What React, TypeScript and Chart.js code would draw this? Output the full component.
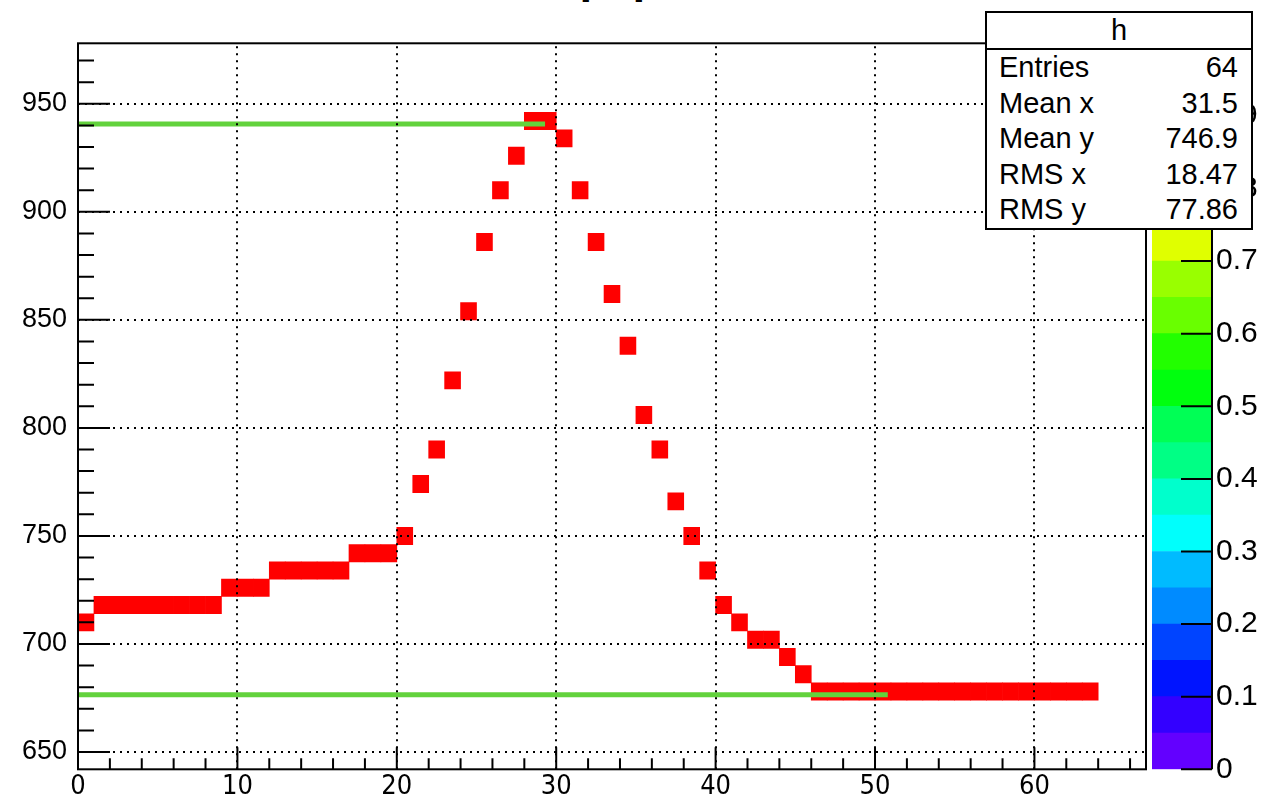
import React, { useEffect, useRef } from "react";
import { Chart, registerables } from "chart.js";

Chart.register(...registerables);

// ---------------- data ----------------
const binLowEdges = [
  0, 1, 2, 3, 4, 5, 6, 7, 8, 9, 10, 11, 12, 13, 14, 15,
  16, 17, 18, 19, 20, 21, 22, 23, 24, 25, 26, 27, 28, 29, 30, 31,
  32, 33, 34, 35, 36, 37, 38, 39, 40, 41, 42, 43, 44, 45, 46, 47,
  48, 49, 50, 51, 52, 53, 54, 55, 56, 57, 58, 59, 60, 61, 62, 63,
];
const binYCenters = [
  710, 718, 718, 718, 718, 718, 718, 718, 718, 726, 726, 726, 734, 734, 734, 734,
  734, 742, 742, 742, 750, 774, 790, 822, 854, 886, 910, 926, 942, 942, 934, 910,
  886, 862, 838, 806, 790, 766, 750, 734, 718, 710, 702, 702, 694, 686, 678, 678,
  678, 678, 678, 678, 678, 678, 678, 678, 678, 678, 678, 678, 678, 678, 678, 678,
];
const binWidthX = 1;
const binHeightY = 8;

const upperLineX = [0, 29.3];
const upperLineY = 940.6;
const lowerLineX = [0, 50.8];
const lowerLineY = 676.5;

const X_RANGE = [0, 67];
const Y_RANGE = [642, 978];
const Z_RANGE = [0, 1];

const xTickValues = [0, 10, 20, 30, 40, 50, 60];
const xTickLabels = ["0", "10", "20", "30", "40", "50", "60"];
const yTickValues = [650, 700, 750, 800, 850, 900, 950];
const yTickLabels = ["650", "700", "750", "800", "850", "900", "950"];
const zTickValues = [0, 0.1, 0.2, 0.3, 0.4, 0.5, 0.6, 0.7, 0.8, 0.9, 1];
const zTickLabels = ["0", "0.1", "0.2", "0.3", "0.4", "0.5", "0.6", "0.7", "0.8", "0.9", "1"];
const xMinorStep = 2;
const yMinorStep = 10;

const zLevels = [
  0, 0.05, 0.1, 0.15, 0.2, 0.25, 0.3, 0.35, 0.4, 0.45, 0.5,
  0.55, 0.6, 0.65, 0.7, 0.75, 0.8, 0.85, 0.9, 0.95, 1,
];
const paletteColors = [
  "rgb(99,0,255)", "rgb(51,0,255)", "rgb(0,20,255)", "rgb(0,68,255)",
  "rgb(0,139,255)", "rgb(0,187,255)", "rgb(0,255,252)", "rgb(0,255,204)",
  "rgb(0,255,133)", "rgb(0,255,85)", "rgb(0,255,14)", "rgb(34,255,0)",
  "rgb(105,255,0)", "rgb(153,255,0)", "rgb(224,255,0)", "rgb(255,238,0)",
  "rgb(255,167,0)", "rgb(255,119,0)", "rgb(255,48,0)", "rgb(255,0,0)",
];

const statsTitle = "h";
const statsLabels = ["Entries", "Mean x", "Mean y", "RMS x", "RMS y"];
const statsValues = ["64", "31.5", "746.9", "18.47", "77.86"];

const titleText = "Threshold [mV] vs channel ID, run 1";

// ---------------- styles ----------------
const BIN_COLOR = "#ff0000";
const GREEN = "#62d23c";
const SANS = "'Liberation Sans', Arial, Helvetica, sans-serif";
const NARROW = "'Liberation Sans Narrow', 'Arial Narrow', 'DejaVu Sans Condensed', 'Liberation Sans', sans-serif";
const GRID_DASH = [2, 5];

const rootFramePlugin = {
  id: "rootFrame",
  afterDatasetsDraw(chart: any) {
    const { ctx, chartArea: a } = chart;
    const xs = chart.scales.x;
    const ys = chart.scales.y;
    ctx.save();
    ctx.strokeStyle = "#000";
    ctx.lineWidth = 2;
    // dotted grid
    ctx.setLineDash(GRID_DASH);
    ctx.beginPath();
    xs.ticks.forEach((t: any) => {
      const px = Math.round(xs.getPixelForValue(t.value));
      ctx.moveTo(px, a.bottom);
      ctx.lineTo(px, a.top);
    });
    ys.ticks.forEach((t: any) => {
      const py = Math.round(ys.getPixelForValue(t.value));
      ctx.moveTo(a.left, py);
      ctx.lineTo(a.right, py);
    });
    ctx.stroke();
    ctx.setLineDash([]);
    // ticks inside frame
    ctx.beginPath();
    const nx = Math.floor((X_RANGE[1] - X_RANGE[0]) / xMinorStep);
    for (let k = 0; k <= nx; k++) {
      const v = X_RANGE[0] + k * xMinorStep;
      const px = xs.getPixelForValue(v);
      const len = xTickValues.includes(v) ? 22 : 11;
      ctx.moveTo(px, a.bottom);
      ctx.lineTo(px, a.bottom - len);
    }
    const y0 = Math.ceil(Y_RANGE[0] / yMinorStep);
    const y1 = Math.floor(Y_RANGE[1] / yMinorStep);
    for (let k = y0; k <= y1; k++) {
      const v = k * yMinorStep;
      const py = ys.getPixelForValue(v);
      const len = yTickValues.includes(v) ? 32 : 16;
      ctx.moveTo(a.left, py);
      ctx.lineTo(a.left + len, py);
    }
    ctx.stroke();
    ctx.strokeRect(a.left, a.top, a.right - a.left, a.bottom - a.top);
    ctx.restore();
  },
};

const paletteAxisPlugin = {
  id: "paletteAxis",
  afterDraw(chart: any) {
    const { ctx, chartArea: a } = chart;
    const zs = chart.scales.y;
    ctx.save();
    ctx.strokeStyle = "#000";
    ctx.lineWidth = 2;
    ctx.beginPath();
    zs.ticks.forEach((t: any) => {
      const py = zs.getPixelForValue(t.value);
      ctx.moveTo(a.right - 31, py);
      ctx.lineTo(a.right, py);
    });
    ctx.moveTo(a.right, a.bottom);
    ctx.lineTo(a.right, a.top);
    ctx.stroke();
    ctx.restore();
  },
};

export default function App() {
  const mainRef = useRef<HTMLCanvasElement>(null);
  const zRef = useRef<HTMLCanvasElement>(null);

  useEffect(() => {
    document.body.style.margin = "0";
    const main = new Chart(mainRef.current as HTMLCanvasElement, {
      type: "bar",
      data: {
        datasets: [
          {
            type: "line",
            data: upperLineX.map((x) => ({ x, y: upperLineY })),
            borderColor: GREEN,
            borderWidth: 5,
            pointRadius: 0,
            fill: false,
            order: 1,
          } as any,
          {
            type: "line",
            data: lowerLineX.map((x) => ({ x, y: lowerLineY })),
            borderColor: GREEN,
            borderWidth: 5,
            pointRadius: 0,
            fill: false,
            order: 1,
          } as any,
          {
            type: "bar",
            data: binLowEdges.map((x, i) => ({
              x: x + binWidthX / 2,
              y: [binYCenters[i] - binHeightY / 2, binYCenters[i] + binHeightY / 2],
            })),
            backgroundColor: BIN_COLOR,
            borderWidth: 0,
            barPercentage: 1,
            categoryPercentage: 1,
            order: 2,
          } as any,
        ],
      },
      options: {
        animation: false,
        responsive: false,
        events: [],
        layout: { padding: { top: 43.3, right: 117, bottom: 0, left: 0 } },
        plugins: {
          legend: { display: false },
          tooltip: { enabled: false },
          title: { display: false },
        },
        scales: {
          x: {
            type: "linear",
            min: X_RANGE[0],
            max: X_RANGE[1],
            offset: false,
            afterBuildTicks: (s: any) => {
              s.ticks = xTickValues.map((value) => ({ value }));
            },
            afterFit: (s: any) => {
              s.height = 31.7;
            },
            grid: { display: false, drawTicks: false, offset: false },
            border: { display: false },
            ticks: {
              color: "#000",
              font: { family: NARROW, size: 27 },
              padding: 1,
              maxRotation: 0,
              minRotation: 0,
              autoSkip: false,
              callback: (_v: any, i: number) => xTickLabels[i],
            },
          },
          y: {
            type: "linear",
            min: Y_RANGE[0],
            max: Y_RANGE[1],
            afterBuildTicks: (s: any) => {
              s.ticks = yTickValues.map((value) => ({ value }));
            },
            afterFit: (s: any) => {
              s.width = 78;
            },
            grid: { display: false, drawTicks: false },
            border: { display: false },
            ticks: {
              color: "#000",
              font: { family: SANS, size: 27 },
              padding: 11,
              autoSkip: false,
              callback: (_v: any, i: number) => yTickLabels[i],
            },
          },
        },
      } as any,
      plugins: [rootFramePlugin],
    });

    const zc = new Chart(zRef.current as HTMLCanvasElement, {
      type: "bar",
      data: {
        labels: [""],
        datasets: paletteColors.map((c, k) => ({
          data: [[zLevels[k], zLevels[k + 1]]],
          backgroundColor: c,
          borderWidth: 0,
          barPercentage: 1,
          categoryPercentage: 1,
          grouped: false,
        })) as any,
      },
      options: {
        animation: false,
        responsive: false,
        events: [],
        layout: { padding: { top: 43.3, right: 0, bottom: 31.7, left: 12 } },
        plugins: {
          legend: { display: false },
          tooltip: { enabled: false },
          title: { display: false },
        },
        scales: {
          x: { display: false },
          y: {
            type: "linear",
            position: "right",
            min: Z_RANGE[0],
            max: Z_RANGE[1],
            afterBuildTicks: (s: any) => {
              s.ticks = zTickValues.map((value) => ({ value }));
            },
            afterFit: (s: any) => {
              s.width = 51;
            },
            grid: { display: false, drawTicks: false },
            border: { display: false },
            ticks: {
              color: "#000",
              font: { family: SANS, size: 30 },
              padding: 4,
              autoSkip: false,
              callback: (_v: any, i: number) => zTickLabels[i],
            },
          },
        },
      } as any,
      plugins: [paletteAxisPlugin],
    });

    return () => {
      main.destroy();
      zc.destroy();
    };
  }, []);

  return (
    <div
      style={{
        position: "fixed",
        left: 0,
        top: 0,
        width: 1263,
        height: 801,
        overflow: "hidden",
        background: "#fff",
      }}
    >
      <div
        style={{
          position: "absolute",
          left: 434,
          top: -31,
          fontFamily: SANS,
          fontSize: 31,
          lineHeight: "31px",
          whiteSpace: "nowrap",
          color: "#000",
        }}
      >
        {titleText}
      </div>
      <canvas
        ref={mainRef}
        width={1263}
        height={801}
        style={{ position: "absolute", left: 0, top: 0 }}
      />
      <canvas
        ref={zRef}
        width={123}
        height={801}
        style={{ position: "absolute", left: 1140, top: 0 }}
      />
      <div
        style={{
          position: "absolute",
          left: 985,
          top: 11,
          width: 268,
          height: 219,
          boxSizing: "border-box",
          border: "2px solid #000",
          background: "#fff",
          fontFamily: SANS,
          fontSize: 29,
          color: "#000",
          zIndex: 2,
        }}
      >
        <div
          style={{
            height: 35,
            lineHeight: "35px",
            textAlign: "center",
            borderBottom: "2px solid #000",
          }}
        >
          {statsTitle}
        </div>
        <div style={{ padding: "0 13px 0 12px" }}>
          {statsLabels.map((lab, i) => (
            <div
              key={lab}
              style={{
                display: "flex",
                justifyContent: "space-between",
                height: 35.5,
                lineHeight: "35.5px",
              }}
            >
              <span>{lab}</span>
              <span>{statsValues[i]}</span>
            </div>
          ))}
        </div>
      </div>
    </div>
  );
}
